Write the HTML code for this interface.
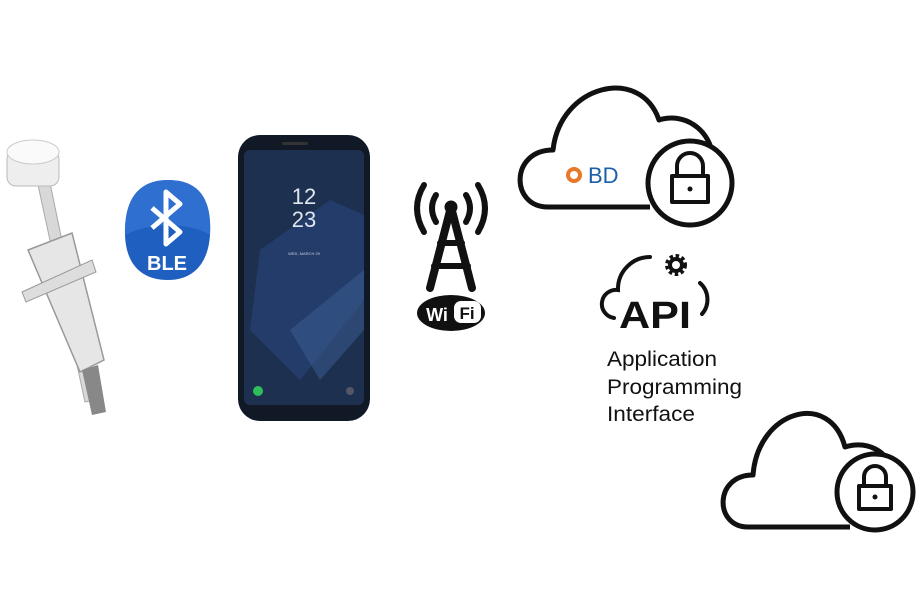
<!DOCTYPE html>
<html><head><style>
html,body{margin:0;padding:0;background:#fff;}
svg{display:block}
</style></head><body>
<svg width="919" height="590" viewBox="0 0 919 590" xmlns="http://www.w3.org/2000/svg">
<rect width="919" height="590" fill="#fff"/>
<!-- Syringe -->
<g>
  <polygon points="38,185 50,183 95,400 85,402" fill="#d8d8d8" stroke="#aaa" stroke-width="1"/>
  <polygon points="28,250 72,233 104,360 80,372" fill="#e6e6e6" stroke="#999" stroke-width="1.5"/>
  <polygon points="22,292 92,260 96,272 26,302" fill="#ddd" stroke="#999"/>
  <polygon points="82,370 98,365 106,412 92,415" fill="#888"/>
  <rect x="7" y="150" width="52" height="36" rx="9" fill="#eee" stroke="#bbb"/>
  <ellipse cx="33" cy="152" rx="26" ry="12" fill="#fafafa" stroke="#ccc"/>
</g>
<!-- BLE -->
<g>
  <path d="M168 180 C200 180 212 200 210 235 C208 265 192 280 168 280 C142 280 126 265 125 235 C124 200 138 180 168 180Z" fill="#1f5fc0"/>
  <path d="M168 180 C200 180 212 200 210 235 C190 222 150 222 125 235 C124 200 138 180 168 180Z" fill="#3a7ad8" opacity="0.6"/>
  <path d="M152 208 L180 232 L166 244 V192 L180 204 L152 228" fill="none" stroke="#fff" stroke-width="5" stroke-linejoin="round"/>
  <text x="167" y="270" font-family="Liberation Sans, sans-serif" font-size="20" fill="#fff" text-anchor="middle" font-weight="bold">BLE</text>
</g>
<!-- Phone -->
<g>
  <rect x="238" y="135" width="132" height="286" rx="22" fill="#111826"/>
  <rect x="244" y="150" width="120" height="255" rx="6" fill="#1d3050"/>
  <path d="M260 250 L330 200 L364 215 L364 300 L300 380 L250 330 Z" fill="#28447a" opacity="0.6"/>
  <path d="M290 330 L364 270 L364 330 L320 380Z" fill="#3e5e96" opacity="0.5"/>
  <rect x="282" y="142" width="26" height="3" rx="1.5" fill="#333"/>
  <text x="304" y="204" font-family="Liberation Sans, sans-serif" font-size="22" fill="#dfe6f0" text-anchor="middle">12</text>
  <text x="304" y="227" font-family="Liberation Sans, sans-serif" font-size="22" fill="#dfe6f0" text-anchor="middle">23</text>
  <text x="304" y="255" font-family="Liberation Sans, sans-serif" font-size="4" fill="#ccd" text-anchor="middle">WED, MARCH 29</text>
  <circle cx="258" cy="391" r="5" fill="#2fbf5a"/>
  <circle cx="350" cy="391" r="4" fill="#556"/>
</g>
<!-- Tower -->
<g stroke="#111" fill="none" stroke-linecap="round">
  <path d="M451 207 L430 288 M451 207 L472 288" stroke-width="8"/>
  <path d="M440 243 H462 M434 266 H468" stroke-width="6"/>
  <circle cx="451" cy="207" r="6" fill="#111"/>
  <path d="M436 195 Q428 208 436 222" stroke-width="6"/>
  <path d="M466 195 Q474 208 466 222" stroke-width="6"/>
  <path d="M424 185 Q410 208 424 232" stroke-width="6"/>
  <path d="M478 185 Q492 208 478 232" stroke-width="6"/>
</g>
<ellipse cx="451" cy="313" rx="34" ry="18" fill="#111"/>
<text x="437" y="321" font-family="Liberation Sans, sans-serif" font-size="18" font-weight="bold" fill="#fff" text-anchor="middle">Wi</text>
<rect x="454" y="301" width="27" height="22" rx="7" fill="#fff"/>
<text x="467" y="319" font-family="Liberation Sans, sans-serif" font-size="17" font-weight="bold" fill="#111" text-anchor="middle">Fi</text>
<!-- Cloud 1 -->
<g stroke="#111" stroke-width="5" fill="none" stroke-linejoin="round">
  <path d="M650 207 H548 C510 207 510 150 553 150 C560 85 640 65 659 120 C685 112 708 130 712 152"/>
  <circle cx="690" cy="183" r="42" fill="#fff"/>
  <path d="M677 176 V166 A13 13 0 0 1 703 166 V176" stroke-width="4"/>
  <rect x="672" y="176" width="36" height="26" stroke-width="4" fill="#fff"/>
</g>
<circle cx="690" cy="189" r="2.5" fill="#111"/>
<circle cx="574" cy="175" r="8" fill="#e8782a"/>
<circle cx="574" cy="175" r="4" fill="#fff"/>
<text x="588" y="183" font-family="Liberation Sans, sans-serif" font-size="22" fill="#1b5fa8">BD</text>
<!-- API -->
<g stroke="#111" stroke-width="4" fill="none" stroke-linecap="round">
  <path d="M614 318 A14 14 0 0 1 618 290 A32 32 0 0 1 650 257"/>
  <path d="M700 283 A22 22 0 0 1 702 314"/>
</g>
<circle cx="676" cy="265" r="8" fill="none" stroke="#111" stroke-width="6" stroke-dasharray="3 2.3"/>
<circle cx="676" cy="265" r="6" fill="none" stroke="#111" stroke-width="4"/>
<text x="619" y="328" font-family="Liberation Sans, sans-serif" font-size="38" font-weight="bold" fill="#111" textLength="72" lengthAdjust="spacingAndGlyphs">API</text>
<text font-family="Liberation Sans, sans-serif" font-size="21" fill="#111" x="607" y="366" textLength="110" lengthAdjust="spacingAndGlyphs">Application</text>
<text font-family="Liberation Sans, sans-serif" font-size="21" fill="#111" x="607" y="394" textLength="135" lengthAdjust="spacingAndGlyphs">Programming</text>
<text font-family="Liberation Sans, sans-serif" font-size="21" fill="#111" x="607" y="421" textLength="88" lengthAdjust="spacingAndGlyphs">Interface</text>
<!-- Cloud 2 -->
<g stroke="#111" stroke-width="5" fill="none" stroke-linejoin="round">
  <path d="M850 527 H748 C714 527 714 475 753 475 C758 410 830 390 845 447 C868 440 888 452 892 470"/>
  <circle cx="875" cy="492" r="38" fill="#fff"/>
  <path d="M864 486 V477 A11 11 0 0 1 886 477 V486" stroke-width="4"/>
  <rect x="859" y="486" width="32" height="23" stroke-width="4" fill="#fff"/>
</g>
<circle cx="875" cy="497" r="2.5" fill="#111"/>
</svg>
</body></html>
